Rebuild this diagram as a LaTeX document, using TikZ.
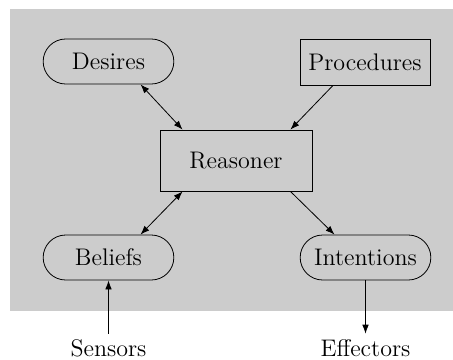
\documentclass[tikz,border=0pt]{standalone}
\usetikzlibrary{arrows.meta,positioning,calc,shapes.misc}
\definecolor{panelgray}{RGB}{204,204,204}
\tikzset{
  store/.style={draw, rounded rectangle, thin, align=center, minimum width=72pt, minimum height=22.5pt, font=\fontsize{12}{14}\selectfont},
  box/.style={draw, thin, align=center, minimum width=65pt, minimum height=23pt, font=\fontsize{12}{14}\selectfont},
  arrow/.style={-{Latex[length=4.5pt,width=3.3pt]}, thin},
  biarrow/.style={{Latex[length=4.5pt,width=3.3pt]}-{Latex[length=4.5pt,width=3.3pt]}, thin},
  ext/.style={inner sep=2.5pt, font=\fontsize{12}{14}\selectfont}
}

\begin{document}
\begin{tikzpicture}[x=0.5pt, y=-0.5pt]
  \useasboundingbox (0,0) rectangle (453,359);
  \fill[panelgray] (10,9) rectangle (453,311);

  \node[box, minimum width=76pt, minimum height=30.5pt] (rsn) at (236,160.5) {Reasoner};
  \node[store] (des) at (108.5,61.5) {Desires};
  \node[box] (proc) at (365,62) {Procedures};
  \node[store] (bel) at (108.5,257.5) {Beliefs};
  \node[store] (int) at (365.5,257.5) {Intentions};
  \node[ext, anchor=base] (sen) at (108.5,356) {Sensors};
  \node[ext, anchor=base] (eff) at (365.5,356) {Effectors};

  \draw[biarrow] ($(des.south)+(32,0)$) -- ($(rsn.north west)+(23,0)$);
  \draw[arrow] ($(proc.south)+(-32,0)$) -- ($(rsn.north east)+(-22,0)$);
  \draw[biarrow] ($(rsn.south west)+(23,0)$) -- ($(bel.north)+(32,0)$);
  \draw[arrow] ($(rsn.south east)+(-22,0)$) -- ($(int.north)+(-31,0)$);
  \draw[arrow] (sen.north) -- (bel.south);
  \draw[arrow] (int.south) -- (eff.north);
\end{tikzpicture}
\end{document}
